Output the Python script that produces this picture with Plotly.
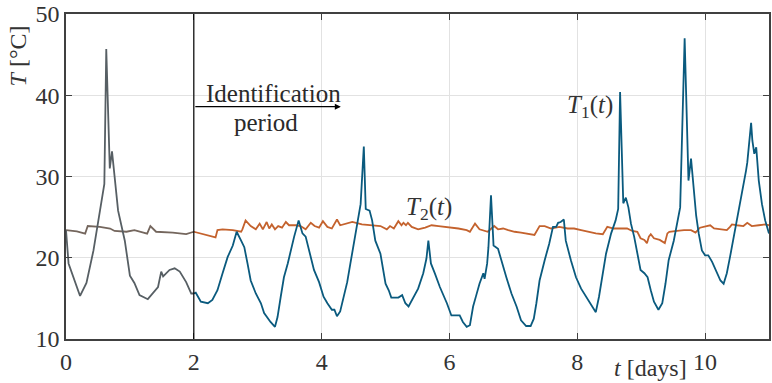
import numpy as np
import plotly.graph_objects as go

# Zone temperatures over the measurement campaign
t1_days = [0.00, 0.04, 0.22, 0.32, 0.43, 0.53, 0.60, 0.63, 0.65, 0.685, 0.72, 0.75, 0.815, 0.92, 0.945,
           1.00, 1.07, 1.15, 1.28, 1.36, 1.44, 1.49, 1.52, 1.62, 1.70, 1.78, 1.88, 1.96,
           2.00, 2.03, 2.11, 2.22, 2.29, 2.37, 2.45, 2.53, 2.61, 2.67, 2.74, 2.79, 2.84, 2.89, 2.97,
           3.05, 3.10, 3.20, 3.27, 3.31, 3.36, 3.41, 3.47, 3.52, 3.57, 3.64, 3.70, 3.75, 3.80, 3.88, 3.96,
           4.03, 4.09, 4.16, 4.20, 4.24, 4.29, 4.35, 4.40, 4.45, 4.50, 4.55, 4.61, 4.66, 4.69, 4.75, 4.79,
           4.84, 4.92, 5.00, 5.05, 5.09, 5.20, 5.26, 5.31, 5.36, 5.41, 5.51, 5.59, 5.64, 5.67, 5.71, 5.77,
           5.85, 5.96, 6.03, 6.11, 6.16, 6.21, 6.27, 6.32, 6.37, 6.42, 6.47, 6.53, 6.55, 6.59, 6.61, 6.65,
           6.67, 6.69, 6.76, 6.81, 6.89, 6.97, 7.05, 7.12, 7.20, 7.27, 7.32, 7.36, 7.41, 7.49, 7.56, 7.62,
           7.67, 7.70, 7.74, 7.79, 7.82, 7.90, 7.98, 8.06, 8.16, 8.24, 8.29, 8.34, 8.40, 8.45, 8.53, 8.60,
           8.64, 8.67, 8.72, 8.76, 8.80, 8.84, 8.89, 8.94, 8.99, 9.05, 9.10, 9.15, 9.20, 9.27, 9.33, 9.38,
           9.43, 9.51, 9.56, 9.61, 9.68, 9.74, 9.78, 9.82, 9.86, 9.90, 9.95, 10.00, 10.05, 10.11, 10.19,
           10.24, 10.29, 10.34, 10.39, 10.45, 10.50, 10.55, 10.60, 10.64, 10.66, 10.72, 10.74, 10.77,
           10.80, 10.84, 10.89, 10.94, 11.00]
t1_temp = [23.4, 19.3, 15.3, 16.9, 20.9, 25.8, 29.1, 45.7, 40.5, 31.0, 33.1, 30.7, 25.8, 22.1, 20.9,
           17.8, 16.9, 15.4, 14.9, 15.6, 16.4, 18.3, 17.7, 18.5, 18.7, 18.3, 17.0, 15.6,
           15.6, 15.7, 14.6, 14.4, 14.8, 16.0, 18.1, 20.1, 21.5, 23.2, 22.1, 21.3, 19.3, 17.2, 15.6,
           14.4, 13.2, 12.1, 11.5, 12.7, 15.2, 17.6, 19.3, 21.1, 22.6, 24.6, 23.0, 22.6, 20.9, 18.5, 17.0,
           15.2, 14.4, 13.6, 13.6, 12.8, 13.4, 15.2, 17.0, 19.3, 21.7, 24.2, 26.6, 33.7, 26.0, 25.8, 24.6,
           22.1, 20.5, 16.8, 16.0, 15.1, 15.1, 15.4, 14.4, 14.0, 14.8, 16.2, 18.1, 19.9, 22.1, 19.3, 18.1,
           16.4, 14.4, 12.9, 12.9, 12.9, 12.1, 11.5, 11.7, 14.0, 15.4, 16.8, 18.1, 17.4, 19.3, 21.3, 27.7,
           24.2, 21.5, 21.1, 19.7, 17.6, 15.6, 14.0, 12.3, 11.6, 11.6, 12.5, 14.4, 17.2, 19.7, 21.7, 23.8,
           23.8, 24.3, 24.4, 24.7, 22.1, 19.7, 17.6, 16.2, 15.0, 14.0, 13.3, 15.2, 18.1, 20.5, 23.0, 24.6,
           26.0, 40.4, 26.7, 27.4, 26.2, 24.2, 22.6, 20.5, 18.5, 18.1, 17.6, 16.0, 14.6, 13.6, 14.4, 16.8,
           19.7, 22.1, 24.2, 26.2, 47.0, 29.5, 32.2, 28.5, 25.2, 23.0, 20.9, 20.3, 20.3, 19.5, 18.1,
           17.2, 16.8, 18.1, 20.1, 22.6, 24.6, 26.6, 29.1, 30.7, 31.7, 36.6, 34.4, 32.8,
           33.6, 29.5, 26.6, 24.6, 23.0]

t2_days = [0.00, 0.17, 0.30, 0.34, 0.53, 0.69, 0.76, 0.945, 1.07, 1.27, 1.32, 1.41, 1.67, 1.88,
           2.00, 2.11, 2.22, 2.29, 2.34, 2.37, 2.45, 2.61, 2.74, 2.76, 2.81, 2.89, 2.97, 3.03, 3.08,
           3.14, 3.18, 3.22, 3.27, 3.32, 3.38, 3.44, 3.49, 3.60, 3.67, 3.75, 3.83, 3.89, 3.96, 4.02,
           4.09, 4.16, 4.24, 4.29, 4.37, 4.48, 4.63, 4.79, 4.92, 5.02, 5.07, 5.13, 5.20, 5.25, 5.28,
           5.32, 5.35, 5.41, 5.51, 5.62, 5.72, 5.83, 5.98, 6.14, 6.27, 6.32, 6.40, 6.47, 6.60, 6.70,
           6.76, 6.84, 6.92, 7.02, 7.12, 7.23, 7.33, 7.41, 7.49, 7.59, 7.72, 7.85, 7.95, 8.06, 8.16,
           8.29, 8.40, 8.47, 8.57, 8.67, 8.78, 8.86, 8.94, 8.99, 9.05, 9.09, 9.12, 9.15, 9.20, 9.29,
           9.37, 9.41, 9.44, 9.56, 9.67, 9.78, 9.85, 9.92, 10.03, 10.08, 10.14, 10.24, 10.34, 10.39,
           10.42, 10.50, 10.60, 10.66, 10.73, 10.84, 10.94, 11.00]
t2_temp = [23.4, 23.25, 22.97, 23.9, 23.8, 23.6, 23.3, 23.2, 23.4, 22.97, 23.9, 23.2, 23.1, 22.9,
           23.2, 23.0, 22.8, 22.6, 22.5, 23.4, 23.5, 23.4, 23.2, 23.5, 24.6, 23.9, 23.5, 24.2, 23.5,
           24.4, 23.6, 24.1, 23.5, 23.9, 23.7, 24.4, 24.0, 24.0, 23.9, 23.5, 24.3, 23.9, 23.7, 24.5,
           23.8, 23.6, 24.7, 24.0, 24.2, 24.4, 24.1, 24.0, 23.9, 23.5, 23.9, 23.6, 24.5, 24.0, 24.3,
           24.0, 24.3, 23.8, 23.5, 23.7, 24.0, 23.9, 23.8, 23.6, 23.4, 23.2, 24.2, 23.5, 23.2, 23.9,
           23.5, 23.6, 23.4, 23.2, 23.1, 22.9, 22.8, 23.9, 23.9, 23.6, 23.8, 23.6, 23.6, 23.4, 23.2,
           23.0, 22.9, 23.8, 23.6, 23.6, 23.6, 23.3, 23.2, 22.4, 22.2, 21.8, 22.6, 22.9, 22.4, 22.2,
           21.8, 23.0, 23.2, 23.3, 23.4, 23.4, 23.1, 23.7, 23.9, 24.0, 23.6, 23.5, 23.4, 23.8,
           24.1, 24.0, 23.9, 24.3, 23.9, 24.0, 24.1, 24.0]

ID_START = 2.0           # start of the identification period [days]
ID_ARROW_END = 4.3
X_TICKS = [0, 2, 4, 6, 8, 10]
Y_TICKS = [10, 20, 30, 40, 50]

BLUE = "#0a5a7e"
ORANGE = "#c4622d"
GREY1 = "#575f64"
GREY2 = "#74665d"
FONT = "Liberation Serif"
TXT = "#2a2a2a"


def split(days, temp):
    d = np.asarray(days)
    v = np.asarray(temp)
    pre = d <= ID_START
    post = d >= ID_START
    return (d[pre], v[pre]), (d[post], v[post])


fig = go.Figure()
for days, temp, col, grey in [(t2_days, t2_temp, ORANGE, GREY2), (t1_days, t1_temp, BLUE, GREY1)]:
    (d0, v0), (d1, v1) = split(days, temp)
    fig.add_trace(go.Scatter(x=d1, y=v1, mode="lines", line=dict(color=col, width=1.8),
                             showlegend=False, hoverinfo="skip"))
    fig.add_trace(go.Scatter(x=d0, y=v0, mode="lines", line=dict(color=grey, width=1.8),
                             showlegend=False, hoverinfo="skip"))

# boundary of the identification period
fig.add_shape(type="line", xref="x", yref="paper", x0=ID_START, x1=ID_START, y0=0, y1=1,
              line=dict(color="black", width=1.2), layer="above")

fig.add_annotation(x=ID_ARROW_END, y=38.6, ax=ID_START, ay=38.6, xref="x", yref="y",
                   axref="x", ayref="y", text="", showarrow=True, arrowhead=2,
                   arrowsize=1, arrowwidth=1.2, arrowcolor="black")
fig.add_annotation(x=3.245, y=40.2, xref="x", yref="y", text="Identification", showarrow=False,
                   font=dict(family=FONT, size=25, color=TXT))
fig.add_annotation(x=3.13, y=36.6, xref="x", yref="y", text="period", showarrow=False,
                   font=dict(family=FONT, size=25, color=TXT))

fig.add_annotation(x=8.2, y=38.6, xref="x", yref="y", text="<i>T</i><sub>1</sub>(<i>t</i>)",
                   showarrow=False, font=dict(family=FONT, size=25, color="#333"))
fig.add_annotation(x=5.68, y=26.1, xref="x", yref="y", text="<i>T</i><sub>2</sub>(<i>t</i>)",
                   showarrow=False, font=dict(family=FONT, size=25, color="#333"))

# axis titles
fig.add_annotation(x=-0.068, y=0.87, xref="paper", yref="paper", xanchor="center",
                   yanchor="middle", text="<i>T</i> [°C]", textangle=-90, showarrow=False,
                   font=dict(family=FONT, size=24, color="#333"))
fig.add_annotation(x=9.14, y=-0.089, xref="x", yref="paper", xanchor="center",
                   yanchor="middle", text="<i>t</i> [days]", showarrow=False,
                   font=dict(family=FONT, size=24, color="#333"))

axis_common = dict(showline=True, linecolor="#404040", linewidth=1.5, mirror="ticks",
                   ticks="inside", ticklen=6, tickcolor="#404040", tickwidth=1.3,
                   showgrid=True, gridcolor="#e2e2e2", gridwidth=1.3, zeroline=False,
                   tickfont=dict(family=FONT, size=24, color="#333"))

fig.update_layout(
    width=772, height=383,
    margin=dict(l=66, r=1, t=13, b=44),
    paper_bgcolor="white", plot_bgcolor="white",
    font=dict(family=FONT),
    xaxis=dict(range=[0, 11], tickvals=X_TICKS, **axis_common),
    yaxis=dict(range=[10, 50], tickvals=Y_TICKS, **axis_common),
)

fig.write_html("out.html")
